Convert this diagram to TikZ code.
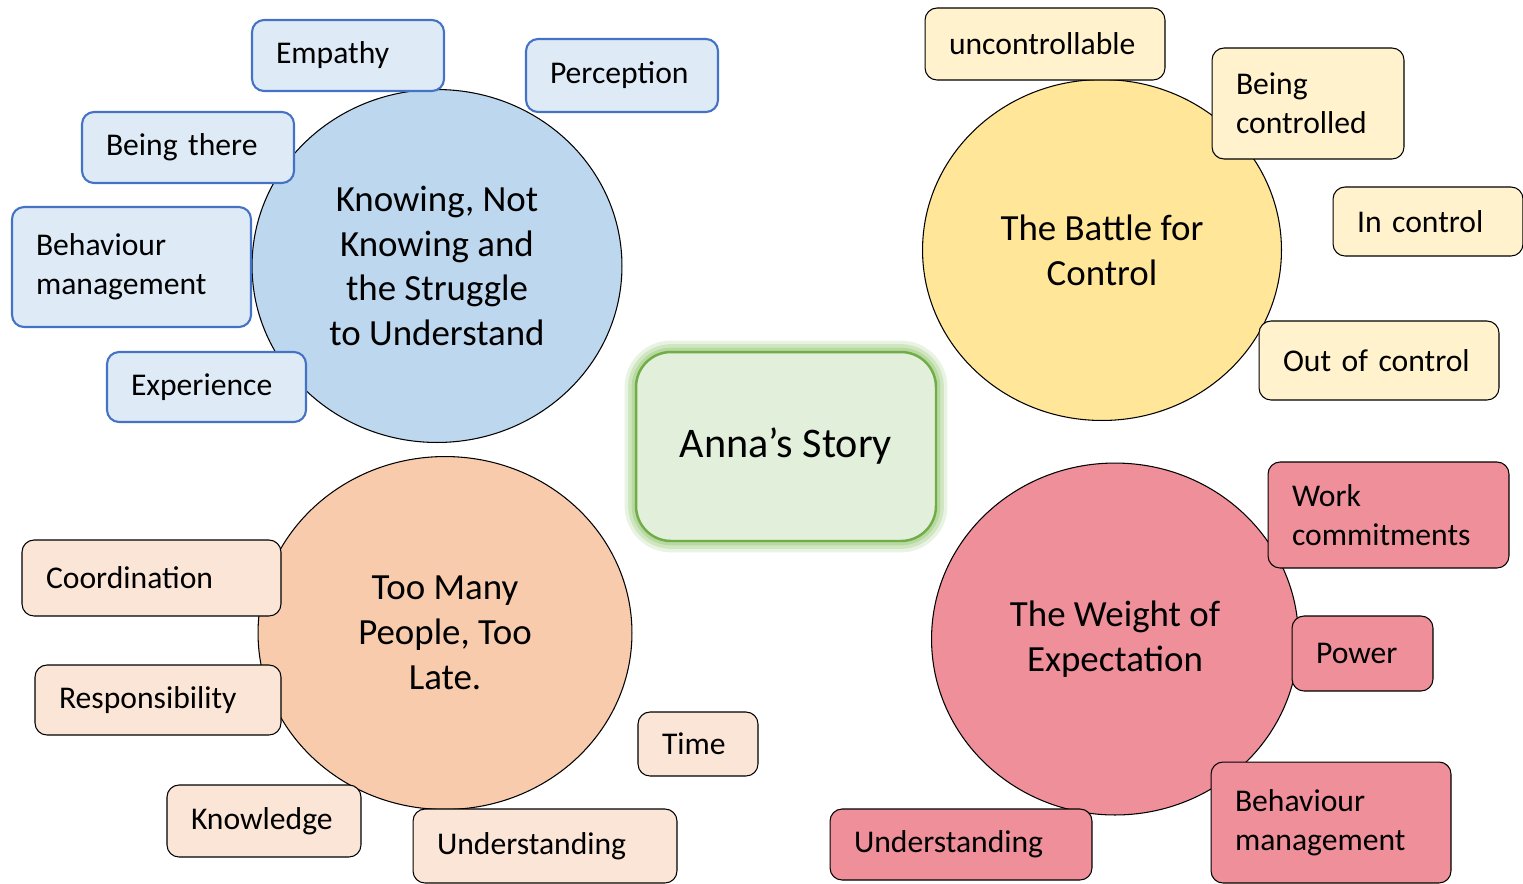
\documentclass[tikz,border=0pt]{standalone}
\usepackage{fontspec}
\setmainfont{Carlito}
\usetikzlibrary{shapes.geometric}
\definecolor{bluering}{HTML}{BDD7EE}
\definecolor{bluefill}{HTML}{DEEBF7}
\definecolor{blueline}{HTML}{4472C4}
\definecolor{goldring}{HTML}{FFE699}
\definecolor{goldfill}{HTML}{FFF2CC}
\definecolor{peachring}{HTML}{F8CBAD}
\definecolor{peachfill}{HTML}{FBE5D6}
\definecolor{rosering}{HTML}{EE8F9A}
\definecolor{annafill}{HTML}{E2EFDA}
\definecolor{annaline}{HTML}{70AD47}
\definecolor{annaglow}{HTML}{A9D18E}
\begin{document}
\begin{tikzpicture}[x=0.02cm, y=-0.02cm,
    topic/.style={ellipse, draw=black, line width=0.6pt, inner sep=0pt,
        align=center, font=\fontsize{21}{25.5}\selectfont},
    item/.style={rectangle, rounded corners=0.24cm, draw=black, line width=0.6pt,
        inner xsep=0.48cm, inner ysep=0pt, align=left,
        font=\fontsize{18}{22}\selectfont},
    bluebox/.style={item, fill=bluefill, draw=blueline, line width=1.2pt},
    goldbox/.style={item, fill=goldfill},
    peachbox/.style={item, fill=peachfill},
    rosebox/.style={item, fill=rosering},
    annabox/.style={rectangle, rounded corners=0.7cm, fill=annafill, draw=annaline,
        line width=1.4pt, minimum width=6cm, minimum height=3.78cm,
        font=\fontsize{24}{29}\selectfont,
        preaction={draw=annaglow, line width=13pt, opacity=0.25},
        preaction={draw=annaglow, line width=9pt, opacity=0.4},
        preaction={draw=annaglow, line width=5pt, opacity=0.6}}]
    \useasboundingbox (0,0) rectangle (1523,883);

    \node[topic, fill=bluering, minimum width=7.4cm, minimum height=7.06cm] (knowing)
        at (437,266) {Knowing, Not\\Knowing and\\the Struggle\\to Understand};
    \node[topic, fill=goldring, minimum width=7.18cm, minimum height=6.82cm] (battle)
        at (1102,250) {The Battle for\\Control};
    \node[topic, fill=peachring, minimum width=7.48cm, minimum height=7.06cm] (toomany)
        at (445,633) {Too Many\\People, Too\\Late.};
    \node[topic, fill=rosering, minimum width=7.34cm, minimum height=7.04cm] (weight)
        at (1115,639) {The Weight of\\Expectation};

    \node[annabox] (anna) at (786,446.5) {Anna’s Story};

    \foreach \nm/\x/\y/\w/\h/\txt in {
        empathy/348/55.5/3.84/1.42/Empathy,
        perception/622/75.5/3.84/1.46/Perception,
        beingthere/188/147.5/4.24/1.42/Being there,
        behaviourA/131.5/267/4.78/2.4/{Behaviour\\management},
        experience/206.5/387/3.98/1.4/Experience} {
    \pgfmathsetmacro{\tw}{\w-0.96}
    \node[bluebox, minimum width=\w cm, minimum height=\h cm, text width=\tw cm]
        (\nm) at (\x,\y) {\txt};
    }
    \foreach \nm/\x/\y/\w/\h/\txt in {
        uncontrollable/1045/44/4.8/1.44/uncontrollable,
        controlled/1308/103.5/3.84/2.22/{Being\\controlled},
        incontrol/1428/221.5/3.8/1.38/In control,
        outofcontrol/1379/360.5/4.8/1.58/Out of control} {
    \pgfmathsetmacro{\tw}{\w-0.96}
    \node[goldbox, minimum width=\w cm, minimum height=\h cm, text width=\tw cm]
        (\nm) at (\x,\y) {\txt};
    }
    \foreach \nm/\x/\y/\w/\h/\txt in {
        coordination/151.5/578/5.18/1.52/Coordination,
        responsibility/158/700/4.92/1.4/Responsibility,
        knowledge/264/821/3.88/1.44/Knowledge,
        time/698/744/2.4/1.28/Time,
        understandingA/545/846/5.28/1.48/Understanding} {
    \pgfmathsetmacro{\tw}{\w-0.96}
    \node[peachbox, minimum width=\w cm, minimum height=\h cm, text width=\tw cm]
        (\nm) at (\x,\y) {\txt};
    }
    \foreach \nm/\x/\y/\w/\h/\txt in {
        work/1388.5/515/4.82/2.12/{Work\\commitments},
        power/1362.5/653.5/2.82/1.5/Power,
        behaviourB/1331/822.5/4.8/2.42/{Behaviour\\management},
        understandingB/961/844.5/5.24/1.42/Understanding} {
    \pgfmathsetmacro{\tw}{\w-0.96}
    \node[rosebox, minimum width=\w cm, minimum height=\h cm, text width=\tw cm]
        (\nm) at (\x,\y) {\txt};
    }
\end{tikzpicture}
\end{document}
